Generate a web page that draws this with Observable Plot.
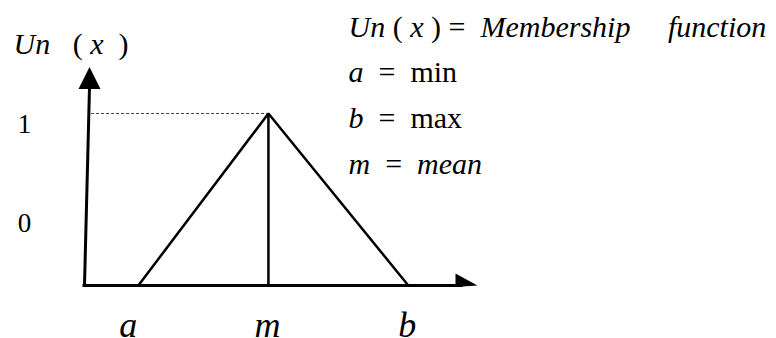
<!DOCTYPE html>
<html><head><meta charset="utf-8">
<script src="https://cdn.jsdelivr.net/npm/d3@7"></script>
<script src="https://cdn.jsdelivr.net/npm/@observablehq/plot@0.6"></script>
<style>
html,body{margin:0;padding:0;background:#fff;}
svg text{white-space:pre;}
</style></head><body><div id="chart"></div>
<script>
// Triangular membership function (x in arbitrary units)
const params = ["a", "m", "b"];
const paramX = [1.37, 4.68, 8.24];
const membership = [0, 1, 0];
const xAxisEnd = 10;
const yAxisTop = 1.27;
const yAxisTopX = 0.127;
const yTickLabels = ["1", "0"];
const yTickValues = [1, 0.42];
const yLabelParts = [["Un", true], ["   ( ", false], ["x", true], ["  )", false]];
const legendLine1 = [["Un", true], [" ( ", false], ["x", true], [" ) =  ", false], ["Membership     function", true]];
const legendLine2 = [["a", true], ["  =  min", false]];
const legendLine3 = [["b", true], ["  =  max", false]];
const legendLine4 = [["m", true], ["  =  ", false], ["mean", true]];
const legendLines = [legendLine1, legendLine2, legendLine3, legendLine4];
const legendY = [1.442, 1.186, 0.913, 0.651];

const serif = "'Liberation Serif', 'Times New Roman', serif";
const upArrow = {draw(ctx) { ctx.moveTo(0, 0); ctx.lineTo(11, 22); ctx.lineTo(-11, 22); ctx.closePath(); }};
const halfArrow = {draw(ctx) { ctx.moveTo(0, 0); ctx.lineTo(-22, 1.5); ctx.lineTo(-22, -12); ctx.closePath(); }};
const joinParts = d => d.map(p => p[0]).join("");

const tri = params.map((p, i) => ({p, x: paramX[i], y: membership[i]}));
const labelStyle = {frameAnchor: "bottom", dy: -2, text: d => d, textAnchor: "middle", lineAnchor: "bottom", fontSize: 36, fontStyle: "italic", fontFamily: serif, fill: "#000"};

const svg = Plot.plot({
  width: 776, height: 338, margin: 0,
  x: {domain: [0, xAxisEnd], range: [84, 477], axis: null},
  y: {domain: [0, 1], range: [285, 113], axis: null},
  style: {background: "#fff", overflow: "visible"},
  marks: [
    Plot.ruleY([1], {x1: 0.18, x2: paramX[1], stroke: "#444", strokeWidth: 1, strokeDasharray: "3,2"}),
    Plot.line(tri, {x: "x", y: "y", stroke: "#000", strokeWidth: 2.5, strokeLinejoin: "miter"}),
    Plot.ruleX([paramX[1]], {y1: 0, y2: 1, stroke: "#000", strokeWidth: 2.5}),
    Plot.ruleY([0], {x1: 0, x2: xAxisEnd - 0.4, stroke: "#000", strokeWidth: 3, strokeLinecap: "square"}),
    Plot.link([0], {x1: 0, y1: 0, x2: yAxisTopX, y2: yAxisTop - 0.12, stroke: "#000", strokeWidth: 3, strokeLinecap: "square"}),
    Plot.dot([0], {x: xAxisEnd, y: 0, symbol: halfArrow, fill: "#000", stroke: "none"}),
    Plot.dot([0], {x: yAxisTopX, y: yAxisTop, symbol: upArrow, fill: "#000", stroke: "none"}),
    Plot.text(params.slice(0, 1), {...labelStyle, x: (d, i) => paramX[i], dx: -10}),
    Plot.text(params.slice(1), {...labelStyle, x: (d, i) => paramX[i + 1], dx: -1}),
    Plot.text(yTickLabels, {y: (d, i) => yTickValues[i], frameAnchor: "left", dx: 24, text: d => d, textAnchor: "middle", lineAnchor: "top", fontSize: 27, fontFamily: serif, fill: "#000"}),
    Plot.text([yLabelParts], {frameAnchor: "top-left", dx: 13, dy: 53, text: joinParts, textAnchor: "start", lineAnchor: "bottom", fontSize: 30, fontFamily: serif, fill: "#000"}),
    Plot.text(legendLines, {y: (d, i) => legendY[i], frameAnchor: "left", dx: 348, text: joinParts, textAnchor: "start", lineAnchor: "bottom", fontSize: 30, fontFamily: serif, fill: "#000"})
  ]
});

// turn the symbol parts of each label into italic tspans
const richTexts = [yLabelParts, ...legendLines];
svg.querySelectorAll("text").forEach(t => {
  const parts = richTexts.find(d => joinParts(d) === t.textContent);
  if (!parts) return;
  t.textContent = "";
  parts.forEach(([s, it]) => {
    const ts = document.createElementNS("http://www.w3.org/2000/svg", "tspan");
    ts.textContent = s;
    if (it) ts.setAttribute("font-style", "italic");
    t.appendChild(ts);
  });
});
document.getElementById("chart").appendChild(svg);
</script></body></html>
